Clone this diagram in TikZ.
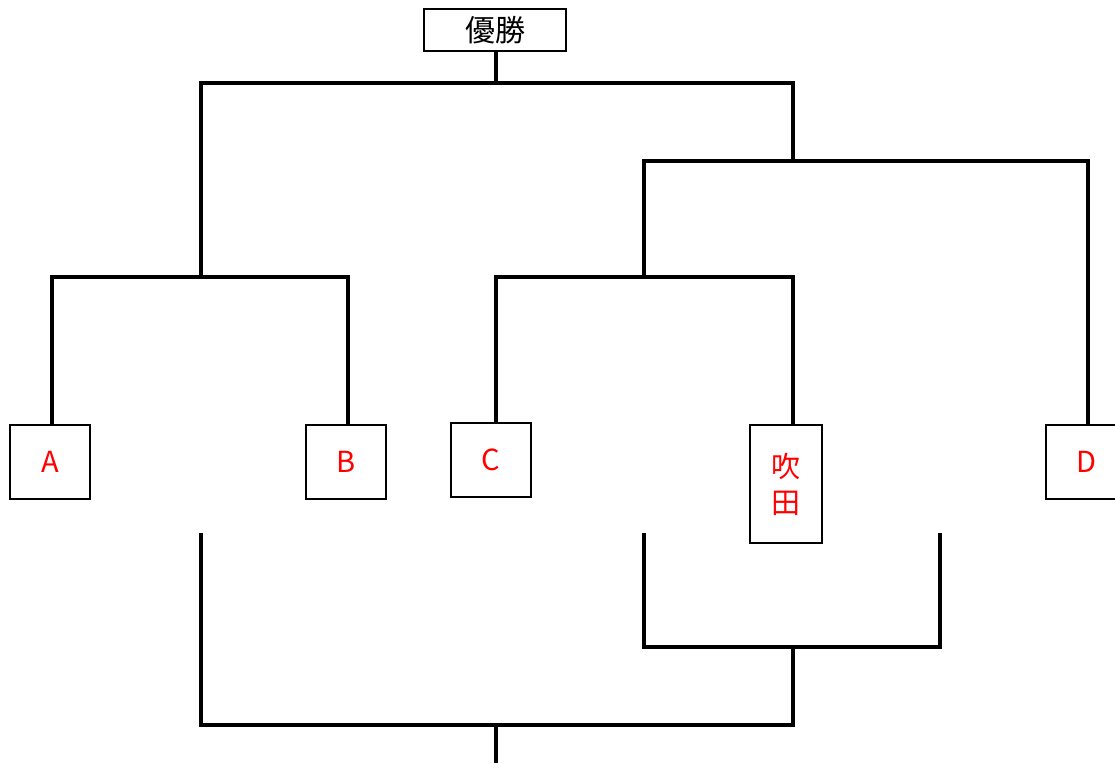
\documentclass[tikz,border=0pt]{standalone}
\usepackage{fontspec}
\setmainfont{Noto Sans CJK JP}
\usepackage{xcolor}
\definecolor{teamred}{HTML}{FF0000}
\usetikzlibrary{positioning, calc}

\tikzset{
  team/.style={draw, line width=1.8pt, inner sep=0pt, minimum width=80pt, minimum height=74pt,
    text=teamred, font=\fontsize{29}{36}\selectfont, align=center},
  winbox/.style={draw, line width=1.8pt, inner sep=0pt, minimum width=142pt, minimum height=42pt,
    font=\fontsize{30}{36}\selectfont},
  bracket/.style={line width=4.2pt}
}

\begin{document}
\begin{tikzpicture}[x=1pt, y=-1pt]
  \useasboundingbox (0,0) rectangle (1115,763);

  % --- winner ---
  \node[winbox] (title) at (495,30) {優勝};
  \coordinate (top) at (496,83);

  % --- teams ---
  \node[team] (a) at (50,462) {A};
  \node[team] (b) at (346,462) {B};
  \node[team] (c) at (491,460) {C};
  \node[team, minimum width=72pt, minimum height=118pt] (suita) at (786,484) {吹\\田};
  \node[team] (d) at (1086,462) {D};

  % --- junctions ---
  \coordinate (ab) at (201,277);
  \coordinate (cs) at (644,277);
  \coordinate (rt) at (793,161);

  % --- upper bracket ---
  \draw[bracket] ([xshift=1pt]title.south) -- (top);
  \draw[bracket] ([xshift=2pt]a.north) |- (ab) -| ([xshift=2pt]b.north);
  \draw[bracket] (ab) |- (top) -| (rt);
  \draw[bracket] ([xshift=5pt]c.north) |- (cs) -| ([xshift=7pt]suita.north);
  \draw[bracket] (cs) |- (rt) -| ([xshift=2pt]d.north);

  % --- lower bracket ---
  \coordinate (l1) at (201,533);
  \coordinate (l2) at (644,533);
  \coordinate (l3) at (940,533);
  \coordinate (lj) at (793,647);
  \coordinate (bot) at (496,725);
  \coordinate (botend) at (496,763);
  \draw[bracket] (l2) |- (lj) -| (l3);
  \draw[bracket] (l1) |- (bot) -| (lj);
  \draw[bracket] (bot) -- (botend);
\end{tikzpicture}
\end{document}
